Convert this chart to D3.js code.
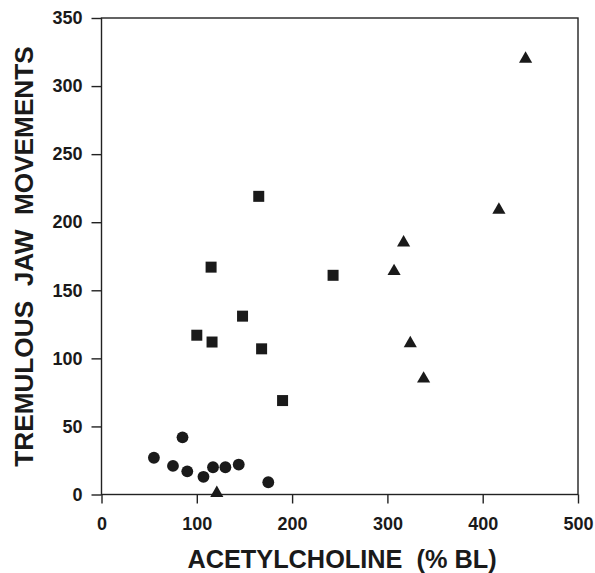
<!DOCTYPE html>
<html>
<head>
<meta charset="utf-8">
<script src="https://cdn.jsdelivr.net/npm/d3@7"></script>
<style>
  body { margin: 0; background: #fff; }
  text { font-family: "Liberation Sans", Arial, sans-serif; font-weight: bold; fill: #1a1a1a; }
</style>
</head>
<body>
<svg width="595" height="573"></svg>
<script>
// acetylcholine (% BL) vs tremulous jaw movements, three groups
const circleX = [55, 75, 85, 90, 107, 117, 130, 144, 175];
const circleY = [27, 21, 42, 17, 13, 20, 20, 22, 9];
const squareX = [100, 115, 116, 148, 165, 168, 190, 243];
const squareY = [117, 167, 112, 131, 219, 107, 69, 161];
const triangleX = [121, 307, 317, 324, 338, 417, 445];
const triangleY = [1, 164, 185, 111, 85, 209, 320];
const xTicks = [0, 100, 200, 300, 400, 500];
const yTicks = [0, 50, 100, 150, 200, 250, 300, 350];

const svg = d3.select("svg");
const plotLeft = 101.5, plotRight = 578, plotTop = 18, plotBottom = 494.5;

const x = d3.scaleLinear().domain([0, 500]).range([plotLeft, plotRight]);
const y = d3.scaleLinear().domain([0, 350]).range([plotBottom, plotTop]);

// frame
svg.append("rect")
  .attr("x", plotLeft).attr("y", plotTop)
  .attr("width", plotRight - plotLeft).attr("height", plotBottom - plotTop)
  .attr("fill", "none").attr("stroke", "#222").attr("stroke-width", 1.4);

const xAxis = svg.append("g")
  .attr("transform", `translate(0,${plotBottom})`)
  .call(d3.axisBottom(x).tickValues(xTicks).tickSize(9).tickPadding(14).tickFormat(d3.format("d")));

const yAxis = svg.append("g")
  .attr("transform", `translate(${plotLeft},0)`)
  .call(d3.axisLeft(y).tickValues(yTicks).tickSize(10).tickPadding(9).tickFormat(d3.format("d")));

[xAxis, yAxis].forEach((a) => {
  a.select(".domain").remove();
  a.selectAll("line").attr("stroke", "#222").attr("stroke-width", 1.4);
  a.selectAll("text").attr("font-size", 18).attr("font-family", null).style("fill", "#1a1a1a");
});

// axis titles
svg.append("text")
  .attr("x", 342).attr("y", 568)
  .attr("text-anchor", "middle").attr("font-size", 25.3)
  .attr("xml:space", "preserve")
  .text("ACETYLCHOLINE  (% BL)");

svg.append("text")
  .attr("transform", "translate(33,256.5) rotate(-90)")
  .attr("text-anchor", "middle").attr("font-size", 26.2)
  .attr("xml:space", "preserve")
  .text("TREMULOUS  JAW  MOVEMENTS");

// markers
const plot = (xs, ys, type, size) => {
  svg.append("g").selectAll("path")
    .data(xs.map((d, i) => [d, ys[i]]))
    .join("path")
    .attr("transform", (d) => `translate(${x(d[0])},${y(d[1])})`)
    .attr("d", d3.symbol().type(type).size(size))
    .attr("fill", "#1a1a1a");
};
plot(circleX, circleY, d3.symbolCircle, 110);
plot(squareX, squareY, d3.symbolSquare, 121);
plot(triangleX, triangleY, d3.symbolTriangle, 75);
</script>
</body>
</html>
